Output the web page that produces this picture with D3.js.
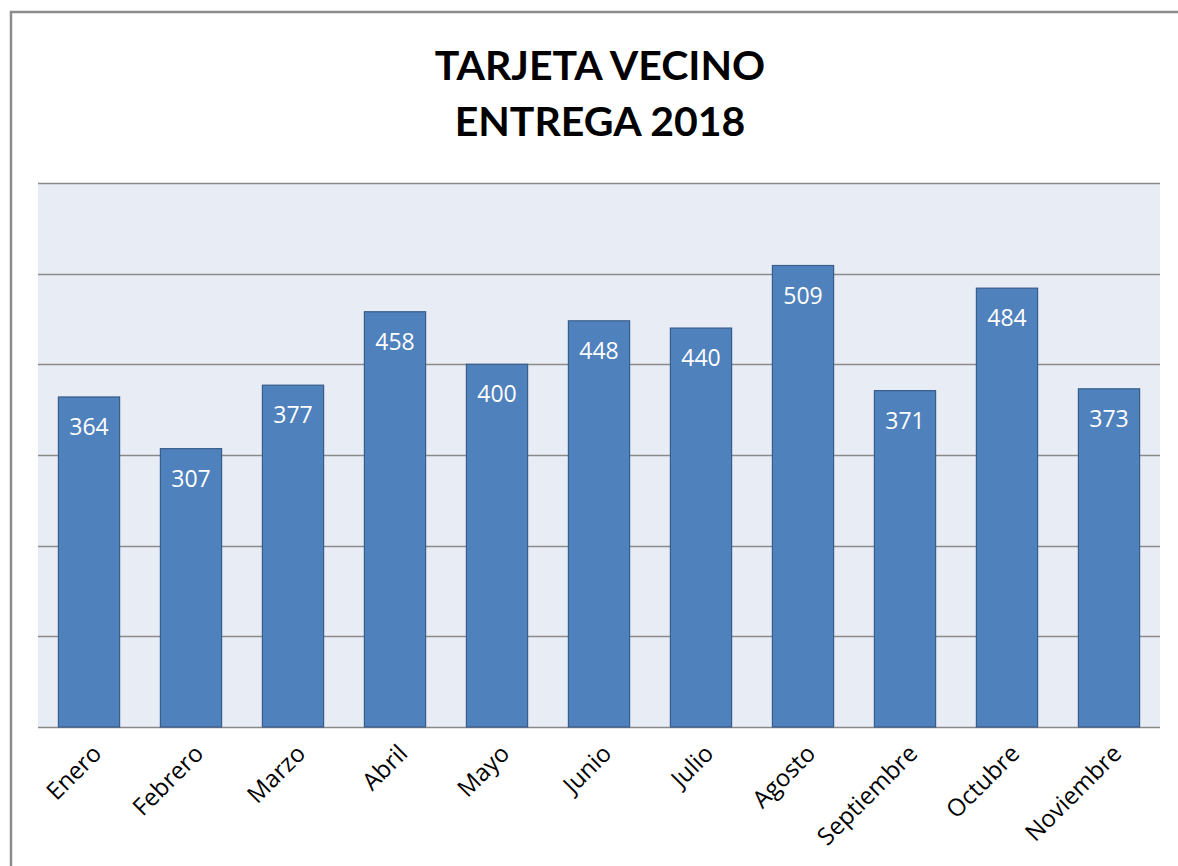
<!DOCTYPE html>
<html>
<head>
<meta charset="utf-8">
<script src="https://cdn.jsdelivr.net/npm/d3@7"></script>
<style>
  body { margin: 0; background: #fff; }
  svg { display: block; }
</style>
</head>
<body>
<div id="chart"></div>
<script>
// donnees
const meses = ["Enero", "Febrero", "Marzo", "Abril", "Mayo", "Junio", "Julio", "Agosto", "Septiembre", "Octubre", "Noviembre"];
const entregas = [364, 307, 377, 458, 400, 448, 440, 509, 371, 484, 373];
const ticksY = [0, 100, 200, 300, 400, 500, 600];
const titulo = ["TARJETA VECINO", "ENTREGA 2018"];

const width = 1178;
const height = 866;
const plot = {left: 38, right: 1160, top: 183, bottom: 727};

const svg = d3.select("#chart")
    .append("svg")
    .attr("width", width)
    .attr("height", height);

// cadre
svg.append("path")
    .attr("d", "M11,866 V12 H1178")
    .attr("fill", "none")
    .attr("stroke", "#8c8c8c")
    .attr("stroke-width", 2.5);

// titre
svg.append("g")
    .selectAll("text")
    .data(titulo)
    .join("text")
    .attr("x", 600)
    .attr("y", (d, i) => 80 + i * 56)
    .attr("text-anchor", "middle")
    .style("font-family", "Lato, 'Open Sans', sans-serif")
    .style("font-weight", "bold")
    .style("font-size", "41px")
    .text(d => d);

const x = d3.scaleBand()
    .domain(meses)
    .range([plot.left, plot.right])
    .paddingInner(0.4)
    .paddingOuter(0.2);

const y = d3.scaleLinear()
    .domain([0, 600])
    .range([plot.bottom, plot.top]);

// fond
svg.append("rect")
    .attr("x", plot.left)
    .attr("y", plot.top)
    .attr("width", plot.right - plot.left)
    .attr("height", plot.bottom - plot.top)
    .attr("fill", "#e8ecf4");

// grille
svg.append("g")
    .selectAll("line")
    .data(ticksY)
    .join("line")
    .attr("x1", plot.left)
    .attr("x2", plot.right)
    .attr("y1", d => Math.round(y(d)) + 0.5)
    .attr("y2", d => Math.round(y(d)) + 0.5)
    .attr("stroke", "#8a8a8a")
    .attr("stroke-width", 1.3);

// barres
svg.append("g")
    .selectAll("rect")
    .data(entregas)
    .join("rect")
    .attr("x", (d, i) => x(meses[i]))
    .attr("y", d => y(d))
    .attr("width", x.bandwidth())
    .attr("height", d => y(0) - y(d))
    .attr("fill", "#4f81bd")
    .attr("stroke", "#385d8a")
    .attr("stroke-width", 1.2);

// etiquettes
svg.append("g")
    .selectAll("text")
    .data(entregas)
    .join("text")
    .attr("x", (d, i) => x(meses[i]) + x.bandwidth() / 2)
    .attr("y", d => y(d) + 38)
    .attr("text-anchor", "middle")
    .attr("fill", "#fff")
    .style("font-family", "'Open Sans', sans-serif")
    .style("font-size", "23px")
    .text(d => d);

// axe x
svg.append("g")
    .selectAll("text")
    .data(meses)
    .join("text")
    .attr("transform", d => "translate(" + (x(d) + x.bandwidth() / 2 + 14) + "," + (plot.bottom + 28) + ") rotate(-45)")
    .attr("text-anchor", "end")
    .style("font-family", "'Open Sans', sans-serif")
    .style("font-size", "24px")
    .text(d => d);
</script>
</body>
</html>
